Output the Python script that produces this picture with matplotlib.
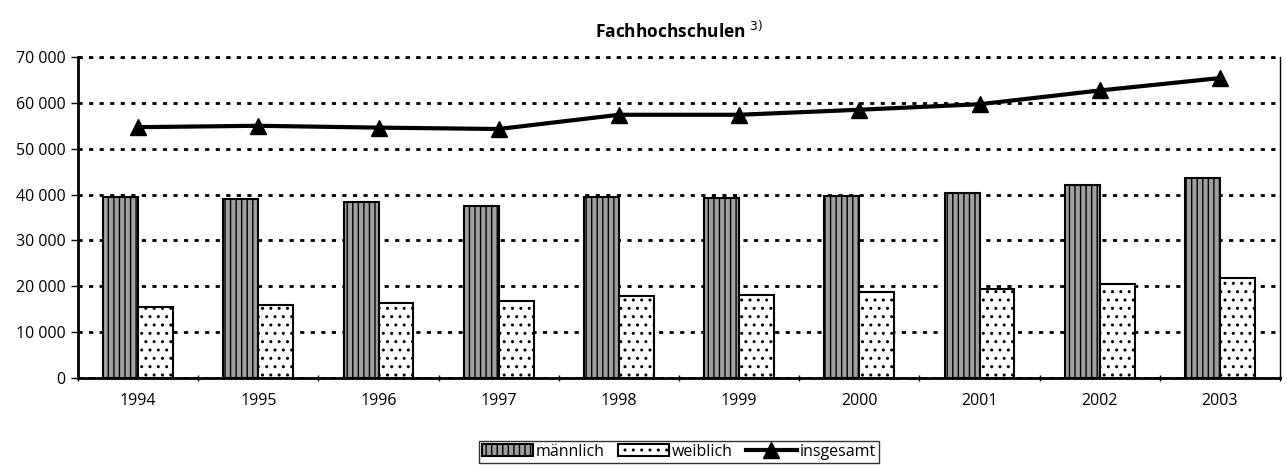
import numpy as np
import matplotlib.pyplot as plt
import matplotlib.ticker as mticker

plt.rcParams['font.family'] = ['Open Sans', 'DejaVu Sans']
plt.rcParams['hatch.linewidth'] = 1.0

years = ['1994', '1995', '1996', '1997', '1998', '1999', '2000', '2001', '2002', '2003']
maennlich = [39400, 39000, 38300, 37600, 39500, 39300, 39700, 40300, 42100, 43600]
weiblich = [15400, 16000, 16300, 16700, 17900, 18100, 18800, 19300, 20500, 21800]
insgesamt = [54700, 55000, 54600, 54300, 57400, 57400, 58500, 59700, 62700, 65400]

fig = plt.figure(figsize=(12.87, 4.68), dpi=100)
ax = fig.add_axes([78 / 1287, 1 - 378 / 468, (1280 - 78) / 1287, (378 - 57) / 468])

x = np.arange(len(years))
w = 0.29

ax.bar(x - w / 2, maennlich, w, color='#a0a0a0', edgecolor='black', linewidth=1.5,
       hatch='|||', label='männlich', zorder=3)
ax.bar(x + w / 2, weiblich, w, color='white', edgecolor='black', linewidth=1.5,
       hatch='..', label='weiblich', zorder=3)
ax.plot(x, insgesamt, color='black', linewidth=3, marker='^', markersize=12,
        label='insgesamt', zorder=4)

ax.set_xlim(-0.5, len(years) - 0.5)
ax.set_ylim(0, 70000)
ax.yaxis.set_major_locator(mticker.MultipleLocator(10000))
ax.yaxis.set_major_formatter(mticker.FuncFormatter(lambda v, p: f'{int(v):,}'.replace(',', ' ')))
ax.set_xticks(x)
ax.set_xticklabels(years)
ax.set_xticks(np.arange(-0.5, len(years)), minor=True)
ax.tick_params(axis='x', which='major', length=0, pad=11, labelsize=11.5)
ax.tick_params(axis='x', which='minor', length=5, direction='inout', width=1)
ax.tick_params(axis='y', length=5, width=1, labelsize=11.5, pad=4)

dash = (0, (1.5, 2.3))
ax.grid(axis='y', color='black', linestyle=dash, linewidth=2, zorder=1)
ax.spines['top'].set_visible(False)
ax.spines['right'].set_linewidth(1)
ax.spines['left'].set_linewidth(2)
ax.spines['bottom'].set_linewidth(2)
ax.axhline(70000, color='black', linestyle=dash, linewidth=2, clip_on=False)

ax.set_title('Fachhochschulen $^{3)}$', fontsize=12.5, fontweight='bold', pad=14)

handles, labels = ax.get_legend_handles_labels()
order = [labels.index(k) for k in ['männlich', 'weiblich', 'insgesamt']]
leg = ax.legend([handles[i] for i in order], [labels[i] for i in order],
                loc='upper center', bbox_to_anchor=(0.5, -0.17), ncol=3, frameon=True,
                fancybox=False, edgecolor='black', fontsize=11.5, handlelength=3.2,
                handletextpad=0.2, columnspacing=0.8, borderpad=0.2, handleheight=0.8)
leg.get_frame().set_linewidth(1)

fig.savefig('out.png', dpi=100)
